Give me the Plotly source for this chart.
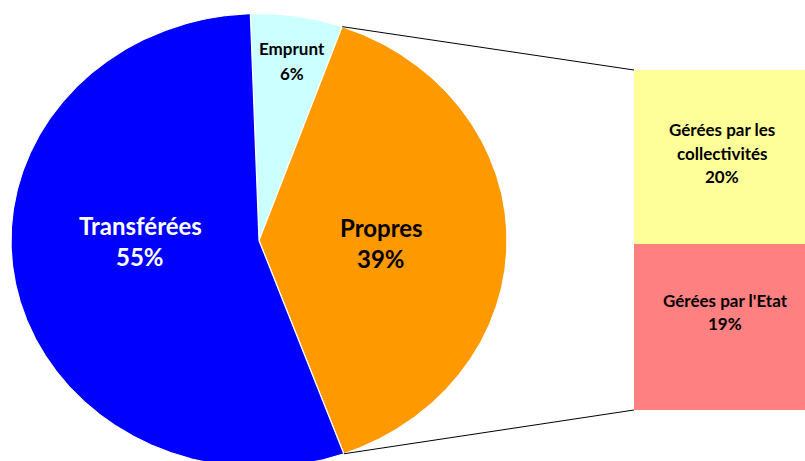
import numpy as np
import plotly.graph_objects as go

# ---- data ----
pie_labels = ["Emprunt", "Propres", "Transférées"]
pie_values = [6, 39, 55]
bar_labels = ["Gérées par l'Etat", "Gérées par les collectivités"]
bar_values = [19, 20]

# ---- styles / geometry ----
pie_colors = ["#CCFFFF", "#FF9900", "#0000FF"]
bar_colors = ["#FF8080", "#FFFF99"]
W, H = 805, 461
CX, CY, RX, RY = 259, 240.5, 248, 227
START = -2.0  # degrees clockwise from 12 o'clock
BAR_X0, BAR_TOP, BAR_BOT = 634, 70, 410
FONT = "Lato"


def pt(a):
    r = np.radians(a)
    return CX + RX * np.sin(r), CY - RY * np.cos(r)


fig = go.Figure()
total = sum(pie_values)
a = START
bounds = []
for lab, v, c in zip(pie_labels, pie_values, pie_colors):
    span = 360.0 * v / total
    angs = np.linspace(a, a + span, max(int(span * 3), 3))
    xs, ys = pt(angs)
    xs = np.concatenate([[CX], xs, [CX]])
    ys = np.concatenate([[CY], ys, [CY]])
    fig.add_trace(go.Scatter(x=xs, y=ys, mode="lines", fill="toself",
                             fillcolor=c, line=dict(color="white", width=1.2),
                             name=lab, hoverinfo="name", showlegend=False,
                             xaxis="x", yaxis="y"))
    bounds.append((a, a + span))
    a += span

# connector lines from the "Propres" slice to the bar
p0 = pt(bounds[1][0])
p1 = pt(bounds[1][1])
fig.add_trace(go.Scatter(x=[p0[0], BAR_X0], y=[p0[1], BAR_TOP], mode="lines",
                         line=dict(color="black", width=1), showlegend=False,
                         hoverinfo="skip"))
fig.add_trace(go.Scatter(x=[p1[0], BAR_X0], y=[p1[1], BAR_BOT], mode="lines",
                         line=dict(color="black", width=1), showlegend=False,
                         hoverinfo="skip"))

# stacked bar
for lab, v, c in zip(bar_labels, bar_values, bar_colors):
    fig.add_trace(go.Bar(x=[0], y=[v], width=1, name=lab, marker=dict(color=c, line=dict(width=0)),
                         xaxis="x2", yaxis="y2", showlegend=False, hoverinfo="name+y"))


def add_lines(x, y_center, lines, size, color, spacing, xref="x", yref="y"):
    n = len(lines)
    for i, t in enumerate(lines):
        y = y_center + (i - (n - 1) / 2) * spacing
        fig.add_annotation(x=x, y=y, xref=xref, yref=yref, text="<b>" + t + "</b>",
                           showarrow=False, font=dict(family=FONT, size=size, color=color),
                           xanchor="center", yanchor="middle")


add_lines(140, 241, [pie_labels[2], f"{pie_values[2]}%"], 24, "white", 31)
add_lines(381, 243, [pie_labels[1], f"{pie_values[1]}%"], 24, "black", 31)
add_lines(292, 61, [pie_labels[0], f"{pie_values[0]}%"], 17, "black", 25)
add_lines(722, 153, ["Gérées par les", "collectivités", f"{bar_values[1]}%"], 17, "black", 23.5)
add_lines(725, 312, [bar_labels[0], f"{bar_values[0]}%"], 17, "black", 23.5)

fig.update_layout(
    width=W, height=H, margin=dict(l=0, r=0, t=0, b=0),
    paper_bgcolor="white", plot_bgcolor="rgba(0,0,0,0)",
    barmode="stack",
    xaxis=dict(range=[0, W], domain=[0, 1], visible=False, fixedrange=True),
    yaxis=dict(range=[H, 0], domain=[0, 1], visible=False, fixedrange=True),
    xaxis2=dict(range=[-0.5, 0.5], domain=[BAR_X0 / W, 1], anchor="y2", visible=False, fixedrange=True),
    yaxis2=dict(range=[0, sum(bar_values)], domain=[(H - BAR_BOT) / H, (H - BAR_TOP) / H],
                anchor="x2", visible=False, fixedrange=True),
)

fig.write_html("out.html", config={"displayModeBar": False},
               post_script="document.body.style.margin='0';document.body.style.padding='0';"
                           "document.body.style.overflow='hidden';")
